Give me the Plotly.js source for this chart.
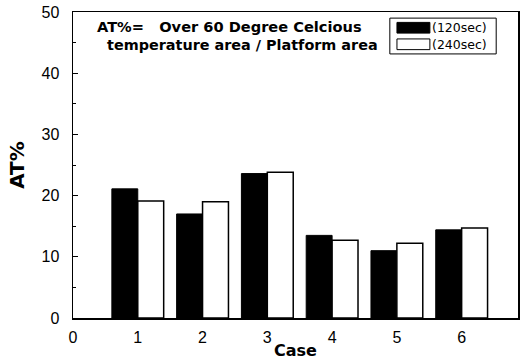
<!DOCTYPE html>
<html>
<head>
<meta charset="utf-8">
<script src="https://cdn.plot.ly/plotly-3.0.1.min.js"></script>
<style>html,body{margin:0;padding:0;background:#fff;}#chart{width:526px;height:364px;}</style>
</head>
<body>
<div id="chart"></div>
<script>
const cases = [1, 2, 3, 4, 5, 6];
const at120 = [21.1, 17.0, 23.6, 13.5, 11.0, 14.4];
const at240 = [19.1, 19.0, 23.8, 12.7, 12.2, 14.7];
const seriesNames = ['(120sec)', '(240sec)'];
const xTicks = [0, 1, 2, 3, 4, 5, 6];
const yTicks = [0, 10, 20, 30, 40, 50];

const traces = [
  {type: 'bar', x: cases, y: at120, name: seriesNames[0],
   marker: {color: '#000', line: {color: '#000', width: 1}}, showlegend: false},
  {type: 'bar', x: cases, y: at240, name: seriesNames[1],
   marker: {color: '#fff', line: {color: '#000', width: 1.5}}, showlegend: false}
];

const tickFam = 'Arial, "Liberation Sans", sans-serif';
const boldFam = '"DejaVu Sans", sans-serif';
const layout = {
  width: 526, height: 364,
  margin: {l: 73, r: 8, t: 12, b: 46},
  paper_bgcolor: '#fff', plot_bgcolor: '#fff',
  barmode: 'group', bargap: 0.2, bargroupgap: 0,
  font: {family: tickFam, color: '#000'},
  xaxis: {range: [0, 6.87], tickvals: xTicks, ticktext: xTicks.map(String),
    showgrid: false, zeroline: false, showline: true, linecolor: '#000', linewidth: 1.5, mirror: true,
    ticks: '', ticklabelstandoff: 4, tickfont: {size: 16, family: tickFam},
    title: {text: '<b>Case</b>', font: {size: 16, family: boldFam}, standoff: 0}},
  yaxis: {range: [0, 50], tickvals: yTicks, showgrid: false, zeroline: false,
    showline: true, linecolor: '#000', linewidth: 1.5, mirror: true,
    ticks: 'inside', ticklen: 5, tickcolor: '#000', ticklabelstandoff: 9,
    minor: {dtick: 5, ticks: 'inside', ticklen: 3, tickcolor: '#000'},
    tickfont: {size: 16, family: tickFam},
    title: {text: '<b>AT%</b>', font: {size: 20, family: boldFam}, standoff: 11}},
  shapes: [
    {type: 'rect', xref: 'paper', yref: 'paper', x0: 0.712, x1: 0.951, y0: 0.863, y1: 0.980,
     line: {color: '#000', width: 1}, fillcolor: '#fff'},
    {type: 'rect', xref: 'paper', yref: 'paper', x0: 0.728, x1: 0.802, y0: 0.931, y1: 0.966,
     line: {color: '#000', width: 1}, fillcolor: '#000'},
    {type: 'rect', xref: 'paper', yref: 'paper', x0: 0.728, x1: 0.802, y0: 0.877, y1: 0.912,
     line: {color: '#000', width: 1}, fillcolor: '#fff'}
  ],
  annotations: [
    {xref: 'paper', yref: 'paper', x: 0.802, y: 0.949, xanchor: 'left', yanchor: 'middle',
     text: '(120sec)', showarrow: false, font: {size: 12.5, family: boldFam}},
    {xref: 'paper', yref: 'paper', x: 0.802, y: 0.894, xanchor: 'left', yanchor: 'middle',
     text: '(240sec)', showarrow: false, font: {size: 12.5, family: boldFam}},
    {xref: 'paper', yref: 'paper', x: 0.05, y: 0.952, xanchor: 'left', yanchor: 'middle',
     text: '<b>AT%=   Over 60 Degree Celcious</b>', showarrow: false, font: {size: 14.6, family: boldFam}},
    {xref: 'paper', yref: 'paper', x: 0.071, y: 0.893, xanchor: 'left', yanchor: 'middle',
     text: '<b>temperature area / Platform area</b>', showarrow: false, font: {size: 14.4, family: boldFam}}
  ]
};

Plotly.newPlot('chart', traces, layout, {displayModeBar: false, staticPlot: true});
</script>
</body>
</html>
